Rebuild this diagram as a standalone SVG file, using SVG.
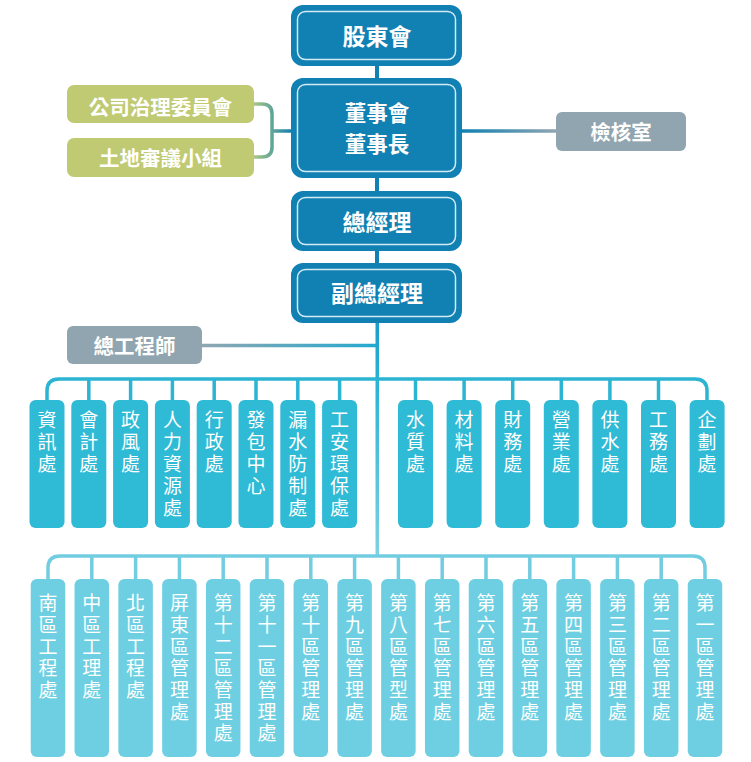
<svg xmlns="http://www.w3.org/2000/svg" width="751" height="762" viewBox="0 0 751 762">
<defs>
<linearGradient id="gBracket" x1="254" y1="0" x2="292" y2="0" gradientUnits="userSpaceOnUse">
<stop offset="0" stop-color="#a9c783"/><stop offset="1" stop-color="#1180b2"/>
</linearGradient>
<linearGradient id="gAudit" x1="462" y1="0" x2="556" y2="0" gradientUnits="userSpaceOnUse">
<stop offset="0" stop-color="#1180b2"/><stop offset="1" stop-color="#8fa6b1"/>
</linearGradient>
<linearGradient id="gChief" x1="202" y1="0" x2="377" y2="0" gradientUnits="userSpaceOnUse">
<stop offset="0" stop-color="#8fa6b1"/><stop offset="1" stop-color="#22aad0"/>
</linearGradient>
<linearGradient id="gMain" x1="0" y1="323" x2="0" y2="557" gradientUnits="userSpaceOnUse">
<stop offset="0" stop-color="#1c9dca"/><stop offset="0.25" stop-color="#2ab3d3"/><stop offset="1" stop-color="#7fd2e2"/>
</linearGradient>
<style>
.top{fill:#1180b2}
.inner{fill:none;stroke:#d6eaf3;stroke-width:1.5}
.ht{font-family:"Noto Sans CJK TC","Noto Sans CJK SC",sans-serif;font-weight:bold;font-size:23px;fill:#fff;text-anchor:middle}
.hb{font-family:"Noto Sans CJK TC","Noto Sans CJK SC",sans-serif;font-weight:bold;font-size:21.5px;fill:#fff;text-anchor:middle}
.st{font-family:"Noto Sans CJK TC","Noto Sans CJK SC",sans-serif;font-weight:bold;font-size:20.5px;fill:#fff;text-anchor:middle}
.green{fill:#bfca73}
.gray{fill:#90a5b0}
.mid{fill:#2fbad5}
.bot{fill:#6dcfe1}
.vt{font-family:"Noto Sans CJK TC","Noto Sans CJK SC",sans-serif;font-size:19px;fill:#fff;writing-mode:vertical-rl;text-anchor:start;letter-spacing:3px}
.vb{font-family:"Noto Sans CJK TC","Noto Sans CJK SC",sans-serif;font-size:19px;fill:#fff;writing-mode:vertical-rl;text-anchor:start;letter-spacing:2.7px}
.bus1{fill:none;stroke:#2cb4d3;stroke-width:3.5}
.bus2{fill:none;stroke:#72cde0;stroke-width:3.5}
.dk{stroke:#1180b2;stroke-width:4}
</style>
</defs>

<g id="connectors">
<line class="dk" x1="377" y1="65" x2="377" y2="80"/>
<line class="dk" x1="377" y1="177" x2="377" y2="192"/>
<line class="dk" x1="377" y1="250" x2="377" y2="264"/>
<path d="M254 104 H262 Q272 104 272 114 V147 Q272 157 262 157 H254 M272 131 H292" fill="none" stroke="url(#gBracket)" stroke-width="3.5"/>
<line x1="461" y1="131" x2="557" y2="131" stroke="url(#gAudit)" stroke-width="3.5"/>
<line x1="201" y1="345.5" x2="377" y2="345.5" stroke="url(#gChief)" stroke-width="3.5"/>
<rect x="375.5" y="322" width="3.5" height="235" fill="url(#gMain)"/>
<path class="bus1" d="M47 401 V391 Q47 379 59 379 H695 Q707 379 707 391 V401"/>
<g class="bus1">
<line x1="88.8" y1="379" x2="88.8" y2="401"/>
<line x1="130.6" y1="379" x2="130.6" y2="401"/>
<line x1="172.4" y1="379" x2="172.4" y2="401"/>
<line x1="214.2" y1="379" x2="214.2" y2="401"/>
<line x1="256" y1="379" x2="256" y2="401"/>
<line x1="297.8" y1="379" x2="297.8" y2="401"/>
<line x1="339.6" y1="379" x2="339.6" y2="401"/>
<line x1="415.5" y1="379" x2="415.5" y2="401"/>
<line x1="464.1" y1="379" x2="464.1" y2="401"/>
<line x1="512.7" y1="379" x2="512.7" y2="401"/>
<line x1="561.3" y1="379" x2="561.3" y2="401"/>
<line x1="609.9" y1="379" x2="609.9" y2="401"/>
<line x1="658.5" y1="379" x2="658.5" y2="401"/>
</g>
<path class="bus2" d="M48 580 V568 Q48 556 60 556 H693 Q705 556 705 568 V580"/>
<g class="bus2">
<line x1="91.8" y1="556" x2="91.8" y2="580"/>
<line x1="135.6" y1="556" x2="135.6" y2="580"/>
<line x1="179.4" y1="556" x2="179.4" y2="580"/>
<line x1="223.2" y1="556" x2="223.2" y2="580"/>
<line x1="267" y1="556" x2="267" y2="580"/>
<line x1="310.8" y1="556" x2="310.8" y2="580"/>
<line x1="354.6" y1="556" x2="354.6" y2="580"/>
<line x1="398.4" y1="556" x2="398.4" y2="580"/>
<line x1="442.2" y1="556" x2="442.2" y2="580"/>
<line x1="486" y1="556" x2="486" y2="580"/>
<line x1="529.8" y1="556" x2="529.8" y2="580"/>
<line x1="573.6" y1="556" x2="573.6" y2="580"/>
<line x1="617.4" y1="556" x2="617.4" y2="580"/>
<line x1="661.2" y1="556" x2="661.2" y2="580"/>
</g>
</g>

<g id="shareholders">
<rect class="top" x="291" y="5" width="171" height="61" rx="12"/>
<rect class="inner" x="297.5" y="11.5" width="158" height="48" rx="8"/>
<text class="ht" x="377" y="45">股東會</text>
</g>
<g id="board">
<rect class="top" x="291" y="78" width="171" height="100" rx="12"/>
<rect class="inner" x="297.5" y="84.5" width="158" height="87" rx="8"/>
<text class="hb" x="377" y="121">董事會</text>
<text class="hb" x="377" y="152.2">董事長</text>
</g>
<g id="gm">
<rect class="top" x="291" y="191" width="171" height="60" rx="12"/>
<rect class="inner" x="297.5" y="197.5" width="158" height="47" rx="8"/>
<text class="ht" x="377" y="230.5">總經理</text>
</g>
<g id="vgm">
<rect class="top" x="291" y="263" width="171" height="60" rx="12"/>
<rect class="inner" x="297.5" y="269.5" width="158" height="47" rx="8"/>
<text class="ht" x="377" y="302">副總經理</text>
</g>
<g id="governance">
<rect class="green" x="67" y="85" width="187" height="38" rx="7"/>
<text class="st" x="160.5" y="114.5">公司治理委員會</text>
</g>
<g id="land">
<rect class="green" x="67" y="138" width="187" height="39" rx="7"/>
<text class="st" x="160.5" y="165.5">土地審議小組</text>
</g>
<g id="audit">
<rect class="gray" x="556" y="112" width="130" height="39" rx="6"/>
<text class="st" x="621" y="139.5">檢核室</text>
</g>
<g id="chief-engineer">
<rect class="gray" x="67" y="326" width="135" height="38" rx="6"/>
<text class="st" x="134.5" y="353.5">總工程師</text>
</g>

<g id="m1"><rect class="mid" x="29.5" y="400" width="35" height="128" rx="6"/><text class="vt" x="47" y="410.5">資訊處</text></g>
<g id="m2"><rect class="mid" x="71.3" y="400" width="35" height="128" rx="6"/><text class="vt" x="88.8" y="410.5">會計處</text></g>
<g id="m3"><rect class="mid" x="113.1" y="400" width="35" height="128" rx="6"/><text class="vt" x="130.6" y="410.5">政風處</text></g>
<g id="m4"><rect class="mid" x="154.9" y="400" width="35" height="128" rx="6"/><text class="vt" x="172.4" y="410.5">人力資源處</text></g>
<g id="m5"><rect class="mid" x="196.7" y="400" width="35" height="128" rx="6"/><text class="vt" x="214.2" y="410.5">行政處</text></g>
<g id="m6"><rect class="mid" x="238.5" y="400" width="35" height="128" rx="6"/><text class="vt" x="256" y="410.5">發包中心</text></g>
<g id="m7"><rect class="mid" x="280.3" y="400" width="35" height="128" rx="6"/><text class="vt" x="297.8" y="410.5">漏水防制處</text></g>
<g id="m8"><rect class="mid" x="322.1" y="400" width="35" height="128" rx="6"/><text class="vt" x="339.6" y="410.5">工安環保處</text></g>
<g id="m9"><rect class="mid" x="398" y="400" width="35" height="128" rx="6"/><text class="vt" x="415.5" y="410.5">水質處</text></g>
<g id="m10"><rect class="mid" x="446.6" y="400" width="35" height="128" rx="6"/><text class="vt" x="464.1" y="410.5">材料處</text></g>
<g id="m11"><rect class="mid" x="495.2" y="400" width="35" height="128" rx="6"/><text class="vt" x="512.7" y="410.5">財務處</text></g>
<g id="m12"><rect class="mid" x="543.8" y="400" width="35" height="128" rx="6"/><text class="vt" x="561.3" y="410.5">營業處</text></g>
<g id="m13"><rect class="mid" x="592.4" y="400" width="35" height="128" rx="6"/><text class="vt" x="609.9" y="410.5">供水處</text></g>
<g id="m14"><rect class="mid" x="641" y="400" width="35" height="128" rx="6"/><text class="vt" x="658.5" y="410.5">工務處</text></g>
<g id="m15"><rect class="mid" x="689.6" y="400" width="35" height="128" rx="6"/><text class="vt" x="707.1" y="410.5">企劃處</text></g>

<g id="b1"><rect class="bot" x="30.75" y="579" width="34.5" height="178" rx="6"/><text class="vb" x="48" y="593.5">南區工程處</text></g>
<g id="b2"><rect class="bot" x="74.55" y="579" width="34.5" height="178" rx="6"/><text class="vb" x="91.8" y="593.5">中區工理處</text></g>
<g id="b3"><rect class="bot" x="118.35" y="579" width="34.5" height="178" rx="6"/><text class="vb" x="135.6" y="593.5">北區工程處</text></g>
<g id="b4"><rect class="bot" x="162.15" y="579" width="34.5" height="178" rx="6"/><text class="vb" x="179.4" y="593.5">屏東區管理處</text></g>
<g id="b5"><rect class="bot" x="205.95" y="579" width="34.5" height="178" rx="6"/><text class="vb" x="223.2" y="593.5">第十二區管理處</text></g>
<g id="b6"><rect class="bot" x="249.75" y="579" width="34.5" height="178" rx="6"/><text class="vb" x="267" y="593.5">第十一區管理處</text></g>
<g id="b7"><rect class="bot" x="293.55" y="579" width="34.5" height="178" rx="6"/><text class="vb" x="310.8" y="593.5">第十區管理處</text></g>
<g id="b8"><rect class="bot" x="337.35" y="579" width="34.5" height="178" rx="6"/><text class="vb" x="354.6" y="593.5">第九區管理處</text></g>
<g id="b9"><rect class="bot" x="381.15" y="579" width="34.5" height="178" rx="6"/><text class="vb" x="398.4" y="593.5">第八區管型處</text></g>
<g id="b10"><rect class="bot" x="424.95" y="579" width="34.5" height="178" rx="6"/><text class="vb" x="442.2" y="593.5">第七區管理處</text></g>
<g id="b11"><rect class="bot" x="468.75" y="579" width="34.5" height="178" rx="6"/><text class="vb" x="486" y="593.5">第六區管理處</text></g>
<g id="b12"><rect class="bot" x="512.55" y="579" width="34.5" height="178" rx="6"/><text class="vb" x="529.8" y="593.5">第五區管理處</text></g>
<g id="b13"><rect class="bot" x="556.35" y="579" width="34.5" height="178" rx="6"/><text class="vb" x="573.6" y="593.5">第四區管理處</text></g>
<g id="b14"><rect class="bot" x="600.15" y="579" width="34.5" height="178" rx="6"/><text class="vb" x="617.4" y="593.5">第三區管理處</text></g>
<g id="b15"><rect class="bot" x="643.95" y="579" width="34.5" height="178" rx="6"/><text class="vb" x="661.2" y="593.5">第二區管理處</text></g>
<g id="b16"><rect class="bot" x="687.75" y="579" width="34.5" height="178" rx="6"/><text class="vb" x="705" y="593.5">第一區管理處</text></g>
</svg>
